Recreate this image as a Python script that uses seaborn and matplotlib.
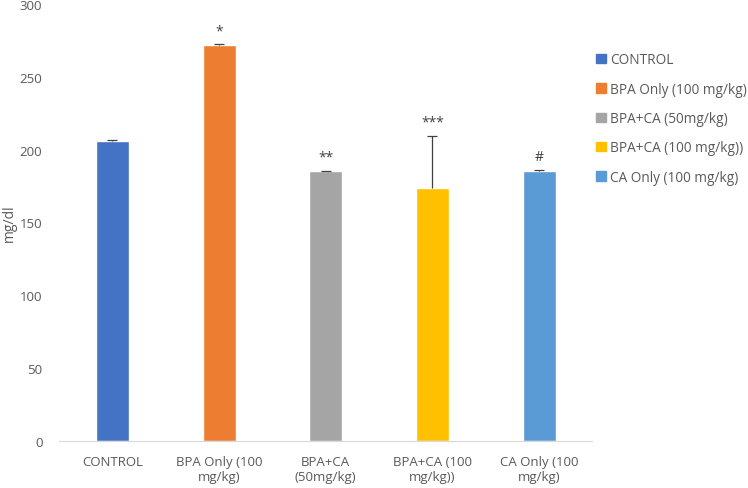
import matplotlib
matplotlib.use("Agg")
import matplotlib.pyplot as plt
import matplotlib.patches as mpatches
import seaborn as sns
import pandas as pd

groups = ["CONTROL", "BPA Only (100 mg/kg)", "BPA+CA (50mg/kg)",
          "BPA+CA (100 mg/kg))", "CA Only (100 mg/kg)"]
tick_labels = ["CONTROL", "BPA Only (100\nmg/kg)", "BPA+CA\n(50mg/kg)",
               "BPA+CA (100\nmg/kg))", "CA Only (100\nmg/kg)"]
values = [206, 272, 185, 173.5, 185.5]
errors = [0.5, 0.5, 0.5, 36, 0.5]
marks = ["", "*", "**", "***", "#"]
colors = ["#4472C4", "#ED7D31", "#A5A5A5", "#FFC000", "#5B9BD5"]

sns.set_style("white")
plt.rcParams["font.family"] = ["Open Sans", "DejaVu Sans"]
text_color = "#595959"

df = pd.DataFrame({"group": groups, "value": values})

fig, ax = plt.subplots(figsize=(7.48, 4.89), dpi=100)
fig.subplots_adjust(left=0.079, right=0.792, top=0.99, bottom=0.096)

sns.barplot(data=df, x="group", y="value", hue="group", palette=colors,
            width=0.31, ax=ax, legend=False, saturation=1)
eb = ax.errorbar(range(len(groups)), values, yerr=[[0] * len(errors), errors],
                 fmt="none", ecolor="#404040", elinewidth=0.9, capsize=3.5, capthick=0.9)
# only the upper cap, like the original
eb[1][0].set_visible(False)

for i, (v, e, m) in enumerate(zip(values, errors, marks)):
    if m:
        ax.text(i, v + e + 4, m, ha="center", va="bottom", fontsize=10, color="#404040")

ax.set_ylim(0, 300)
ax.set_yticks(range(0, 301, 50))
ax.set_xticks(range(len(groups)))
ax.set_xticklabels(tick_labels, fontsize=9.5, color=text_color)
ax.tick_params(axis="y", labelsize=9.5, labelcolor=text_color, length=0, pad=12)
ax.tick_params(axis="x", length=0, pad=10)
ax.set_xlabel("")
ax.set_ylabel("mg/dl", fontsize=10, color=text_color, labelpad=2)
for s in ["top", "right", "left"]:
    ax.spines[s].set_visible(False)
ax.spines["bottom"].set_color("#D9D9D9")
ax.set_xlim(-0.5, 4.5)

handles = [mpatches.Patch(color=c, label=g) for c, g in zip(colors, groups)]
leg = fig.legend(handles=handles, loc="upper left", bbox_to_anchor=(0.792, 0.899),
                 frameon=False, fontsize=9.8, handlelength=0.7, handleheight=0.7,
                 handletextpad=0.3, labelspacing=1.05, labelcolor=text_color,
                 borderaxespad=0, borderpad=0.3)

fig.savefig("out.png", dpi=100)
